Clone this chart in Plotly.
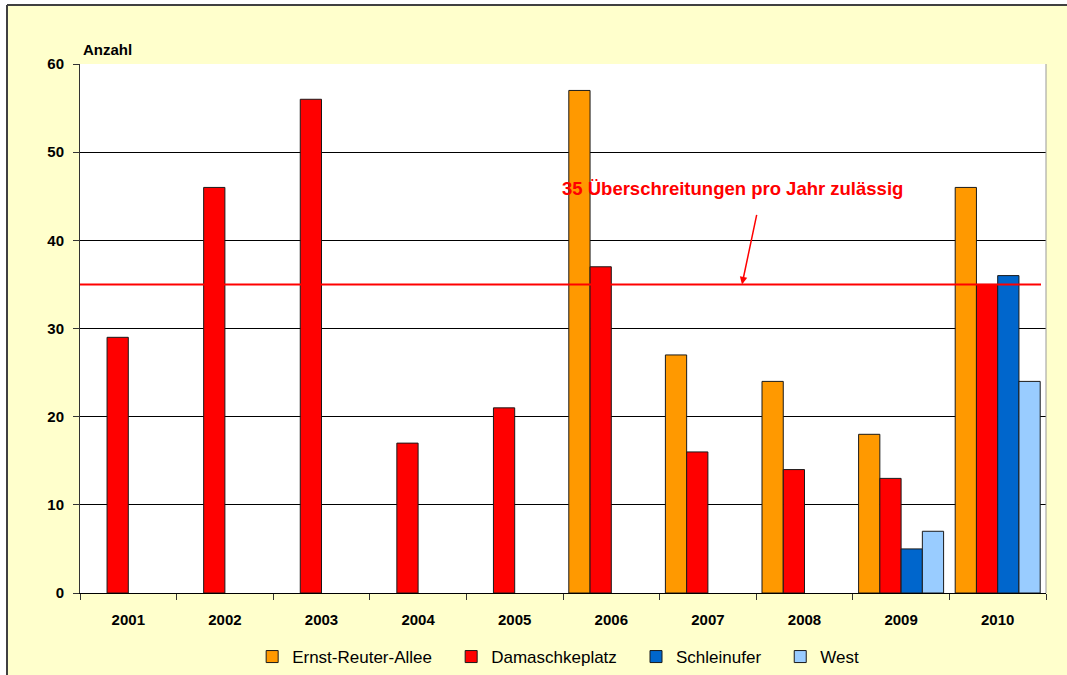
import plotly.graph_objects as go

years = ["2001", "2002", "2003", "2004", "2005", "2006", "2007", "2008", "2009", "2010"]
ernst_reuter_allee = [None, None, None, None, None, 57, 27, 24, 18, 46]
damaschkeplatz = [29, 46, 56, 17, 21, 37, 16, 14, 13, 35]
schleinufer = [None, None, None, None, None, None, None, None, 5, 36]
west = [None, None, None, None, None, None, None, None, 7, 24]
limit_value = 35
y_ticks = [0, 10, 20, 30, 40, 50, 60]

series = [
    ("Ernst-Reuter-Allee", ernst_reuter_allee, "#FF9900"),
    ("Damaschkeplatz", damaschkeplatz, "#FF0000"),
    ("Schleinufer", schleinufer, "#0066CC"),
    ("West", west, "#99CCFF"),
]

W, H = 1067, 675
L, R, T, B = 80, 21, 64, 82
pw, ph = W - L - R, H - T - B

def px(x):
    return (x - L) / pw

def py(y):
    return (H - B - y) / ph

fig = go.Figure()
for i, (name, vals, col) in enumerate(series):
    pad = "\u00a0\u00a0\u00a0" if i < len(series) - 1 else ""
    fig.add_trace(go.Bar(
        x=years, y=vals, name=name + pad,
        marker=dict(color=col, line=dict(color="#1a1a1a", width=1)),
    ))

font = "Liberation Sans, Arial, sans-serif"

fig.update_layout(
    width=W, height=H,
    margin=dict(l=L, r=R, t=T, b=B, autoexpand=False),
    paper_bgcolor="#FFFFCC",
    plot_bgcolor="white",
    barmode="group",
    bargap=0.12,
    bargroupgap=0,
    font=dict(family=font, size=15, color="black"),
    showlegend=True,
    legend=dict(orientation="h", x=0.495, xanchor="center", y=py(657), yanchor="middle",
                font=dict(size=17, family=font), bgcolor="rgba(0,0,0,0)",
                itemwidth=30, traceorder="normal"),
    xaxis=dict(
        type="category", tickson="boundaries", ticks="outside", ticklen=6,
        tickcolor="#333333", showline=True, linecolor="black", linewidth=1,
        tickfont=dict(size=15, family=font, color="black", weight="bold"),
        ticklabelstandoff=13, showgrid=False, range=[-0.5, 9.5],
    ),
    yaxis=dict(
        range=[0, 60], tickvals=y_ticks, ticks="outside", ticklen=6,
        tickcolor="#333333", showline=True, linecolor="#333333", linewidth=1,
        showgrid=True, gridcolor="black", gridwidth=1,
        tickfont=dict(size=15, family=font, color="black", weight="bold"),
        zeroline=False, ticklabelstandoff=6,
    ),
    shapes=[
        dict(type="rect", xref="paper", yref="paper", x0=px(-5), x1=px(7), y0=py(700), y1=py(-5),
             fillcolor="white", line=dict(width=0), layer="above"),
        dict(type="rect", xref="paper", yref="paper", x0=px(-5), x1=px(1100), y0=py(5), y1=py(-5),
             fillcolor="white", line=dict(width=0), layer="above"),
        dict(type="line", xref="paper", yref="paper", x0=px(7), x1=px(7), y0=py(5), y1=py(700),
             line=dict(color="#404040", width=2)),
        dict(type="line", xref="paper", yref="paper", x0=px(7), x1=px(1100), y0=py(5), y1=py(5),
             line=dict(color="#404040", width=2)),
        dict(type="line", xref="paper", yref="paper", x0=1, x1=1, y0=0, y1=1,
             line=dict(color="#999999", width=1)),
        dict(type="line", xref="paper", yref="y", x0=0, x1=px(1041), y0=limit_value, y1=limit_value,
             line=dict(color="#FF0000", width=2), layer="above"),
    ],
    annotations=[
        dict(text="<b>Anzahl</b>", xref="paper", yref="paper", x=px(81), y=py(50),
             xanchor="left", yanchor="middle", showarrow=False,
             font=dict(size=15, family=font, color="black")),
        dict(text="<b>35 Überschreitungen pro Jahr zulässig</b>", xref="paper", yref="paper",
             x=px(732), y=py(188), xanchor="center", yanchor="middle", showarrow=False,
             font=dict(size=18.5, family=font, color="#FF0000")),
        dict(text="", xref="paper", yref="y", x=px(742), y=limit_value,
             ax=15, ay=-71, showarrow=True, arrowhead=2, arrowsize=1, arrowwidth=1.5,
             arrowcolor="#FF0000"),
    ],
)

fig.write_html("out.html")
